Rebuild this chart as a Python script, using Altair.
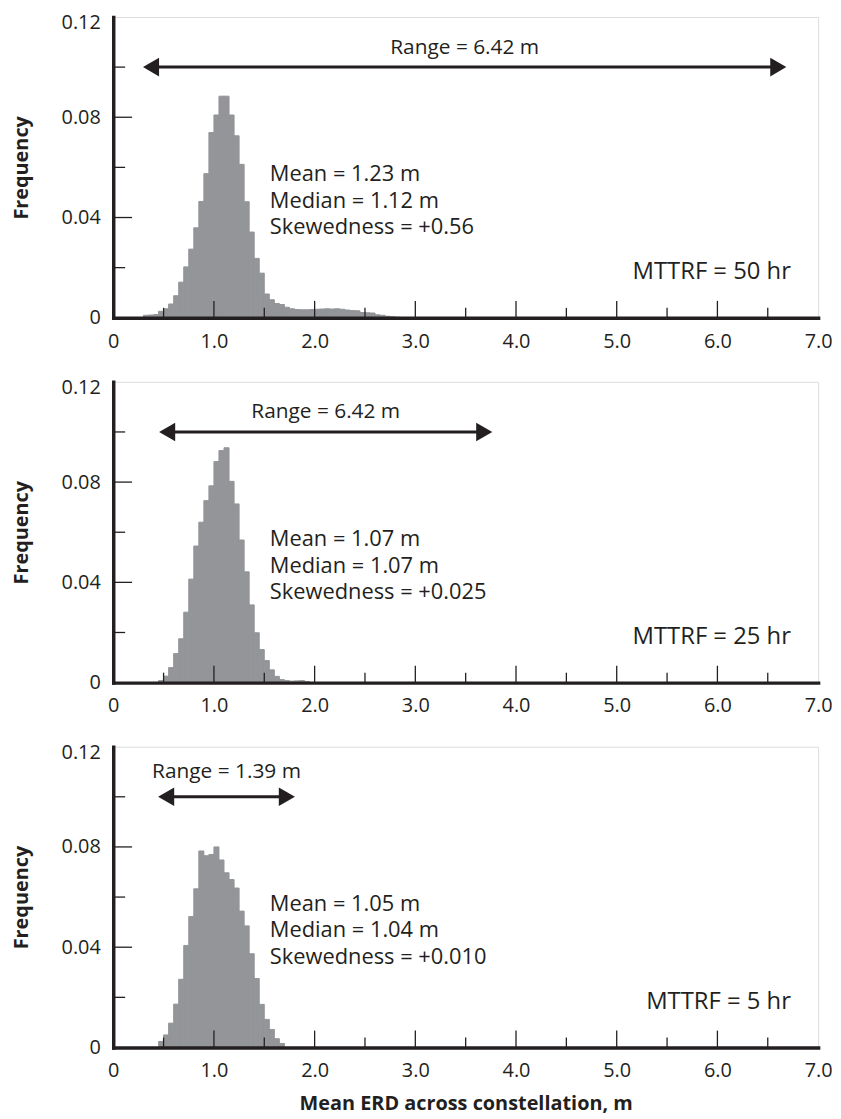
import altair as alt
import pandas as pd

# ---------------- data ----------------
BIN_W = 0.05

# MTTRF = 50 hr
bins_50 = [0.30, 0.35, 0.40, 0.45, 0.50, 0.55, 0.60, 0.65, 0.70, 0.75,
           0.80, 0.85, 0.90, 0.95, 1.00, 1.05, 1.10, 1.15, 1.20, 1.25,
           1.30, 1.35, 1.40, 1.45, 1.50, 1.55, 1.60, 1.65, 1.70, 1.75,
           1.80, 1.85, 1.90, 1.95, 2.00, 2.05, 2.10, 2.15, 2.20, 2.25,
           2.30, 2.35, 2.40, 2.45, 2.50, 2.55, 2.60, 2.65, 2.70, 2.75, 2.80]
freq_50 = [0.0010, 0.0011, 0.0013, 0.0026, 0.0036, 0.0055, 0.0088, 0.0142, 0.0203, 0.0274,
           0.0359, 0.0464, 0.0575, 0.0739, 0.0809, 0.0884, 0.0884, 0.0809, 0.0726, 0.0612,
           0.0463, 0.0342, 0.0237, 0.0178, 0.0095, 0.0072, 0.0057, 0.0053, 0.0042, 0.0036,
           0.0033, 0.0032, 0.0032, 0.0033, 0.0034, 0.0035, 0.0036, 0.0035, 0.0036, 0.0034,
           0.0031, 0.0029, 0.0028, 0.0021, 0.0020, 0.0019, 0.0012, 0.0010, 0.0006, 0.0004, 0.0002]

# MTTRF = 25 hr
bins_25 = [0.45, 0.50, 0.55, 0.60, 0.65, 0.70, 0.75, 0.80, 0.85, 0.90,
           0.95, 1.00, 1.05, 1.10, 1.15, 1.20, 1.25, 1.30, 1.35, 1.40,
           1.45, 1.50, 1.55, 1.60, 1.65, 1.70, 1.75, 1.80, 1.85, 1.90]
freq_25 = [0.0008, 0.0026, 0.0060, 0.0116, 0.0175, 0.0281, 0.0413, 0.0545, 0.0640, 0.0726,
           0.0785, 0.0882, 0.0926, 0.0937, 0.0803, 0.0713, 0.0569, 0.0442, 0.0310, 0.0199,
           0.0132, 0.0088, 0.0051, 0.0025, 0.0012, 0.0008, 0.0006, 0.0007, 0.0008, 0.0004]

# MTTRF = 5 hr
bins_5 = [0.45, 0.50, 0.55, 0.60, 0.65, 0.70, 0.75, 0.80, 0.85, 0.90,
          0.95, 1.00, 1.05, 1.10, 1.15, 1.20, 1.25, 1.30, 1.35, 1.40,
          1.45, 1.50, 1.55, 1.60, 1.65]
freq_5 = [0.0024, 0.0050, 0.0097, 0.0173, 0.0272, 0.0407, 0.0522, 0.0633, 0.0784, 0.0765,
          0.0770, 0.0800, 0.0748, 0.0697, 0.0670, 0.0636, 0.0544, 0.0485, 0.0374, 0.0275,
          0.0172, 0.0112, 0.0072, 0.0035, 0.0016]

range_lo = [0.27, 0.43, 0.42]
range_hi = [6.71, 3.79, 1.83]
range_text = ["Range = 6.42 m", "Range = 6.42 m", "Range = 1.39 m"]
stats_text = [
    ["Mean = 1.23 m", "Median = 1.12 m", "Skewedness = +0.56"],
    ["Mean = 1.07 m", "Median = 1.07 m", "Skewedness = +0.025"],
    ["Mean = 1.05 m", "Median = 1.04 m", "Skewedness = +0.010"],
]
mttrf_text = ["MTTRF = 50 hr", "MTTRF = 25 hr", "MTTRF = 5 hr"]

x_label_values = [0, 1, 2, 3, 4, 5, 6, 7]
y_label_values = [0, 0.04, 0.08, 0.12]
x_major_ticks = [1, 2, 3, 4, 5, 6]
x_minor_ticks = [0.5, 1.5, 2.5, 3.5, 4.5, 5.5, 6.5]
y_major_ticks = [0.04, 0.08]
y_minor_ticks = [0.02, 0.06, 0.10]

# ---------------- layout / style ----------------
W, H = 710, 303
INK = "#231f20"
GRAY = "#939598"
FONT = "Open Sans"
ARROW_Y = 0.10
RANGE_LABEL_Y = [0.1075, 0.108, 0.1098]
STATS_X = 1.555
STATS_Y = [0.0572, 0.0467, 0.0361]
MTTRF_X = 6.73
MTTRF_Y = 0.0183

xs = alt.Scale(domain=[0, 7], nice=False, zero=False)
ys = alt.Scale(domain=[0, 0.12], nice=False, zero=False)

TOP_TEST = "datum.value >= 0.119"


def make_panel(i, bins, freq, show_xtitle):
    xaxis = alt.Axis(
        values=x_label_values,
        labelExpr="datum.value == 0 ? '0' : format(datum.value, '.1f')",
        ticks=False, tickSize=0, grid=False,
        domainColor=INK, domainWidth=3.5, domainCap="square",
        labelPadding=13.5, labelFontSize=20, labelFont=FONT, labelColor=INK,
        labelFlush=False, labelOverlap=False,
        title="Mean ERD across constellation, m" if show_xtitle else None,
        titleFont=FONT, titleFontSize=20, titleFontWeight="bold", titleColor=INK,
        titlePadding=13, zindex=1,
    )
    yaxis = alt.Axis(
        values=y_label_values,
        labelExpr="datum.value == 0 ? '0' : format(datum.value, '.2f')",
        ticks=False, tickSize=0, grid=False,
        domainColor=INK, domainWidth=3.5, domainCap="square",
        labelPadding=13, labelFontSize=20, labelFont=FONT, labelColor=INK,
        labelFlush=False, labelOverlap=False,
        labelBaseline={"condition": {"test": TOP_TEST, "value": "top"}, "value": "middle"},
        labelOffset={"condition": {"test": TOP_TEST, "value": -4}, "value": 0},
        title="Frequency", titleFont=FONT, titleFontSize=20,
        titleFontWeight="bold", titleColor=INK, titlePadding=30, zindex=1,
    )

    df = pd.DataFrame({"x": bins, "f": freq})
    bars = alt.Chart(df).transform_calculate(
        x2=f"datum.x + {BIN_W}", y0="0"
    ).mark_rect(color=GRAY, stroke=GRAY, strokeWidth=1).encode(
        x=alt.X("x:Q", scale=xs, axis=xaxis),
        x2="x2:Q",
        y=alt.Y("f:Q", scale=ys, axis=yaxis),
        y2="y0:Q",
    )

    xmaj = alt.Chart(pd.DataFrame({"x": x_major_ticks})).mark_rule(
        color=INK, strokeWidth=1.3).encode(x="x:Q", y=alt.value(H), y2=alt.value(H - 17))
    xmin = alt.Chart(pd.DataFrame({"x": x_minor_ticks})).mark_rule(
        color=INK, strokeWidth=1.3).encode(x="x:Q", y=alt.value(H), y2=alt.value(H - 10))
    ymaj = alt.Chart(pd.DataFrame({"f": y_major_ticks})).mark_rule(
        color=INK, strokeWidth=1.3).encode(y="f:Q", x=alt.value(0), x2=alt.value(19))
    ymin = alt.Chart(pd.DataFrame({"f": y_minor_ticks})).mark_rule(
        color=INK, strokeWidth=1.3).encode(y="f:Q", x=alt.value(0), x2=alt.value(12))

    arr_df = pd.DataFrame({"x": [range_lo[i]], "x2": [range_hi[i]], "f": [ARROW_Y]})
    arrow = alt.Chart(arr_df).mark_rule(
        color=INK, strokeWidth=3, xOffset=8, x2Offset=-8).encode(
        x="x:Q", x2="x2:Q", y="f:Q")
    head_l = alt.Chart(pd.DataFrame({"x": [range_lo[i]], "f": [ARROW_Y]})).mark_point(
        shape="triangle-left", size=350, filled=True, color=INK, opacity=1,
        strokeWidth=0, xOffset=10.7).encode(x="x:Q", y="f:Q")
    head_r = alt.Chart(pd.DataFrame({"x": [range_hi[i]], "f": [ARROW_Y]})).mark_point(
        shape="triangle-right", size=350, filled=True, color=INK, opacity=1,
        strokeWidth=0, xOffset=-10.7).encode(x="x:Q", y="f:Q")

    rl_df = pd.DataFrame({"x": [(range_lo[i] + range_hi[i]) / 2],
                          "f": [RANGE_LABEL_Y[i]], "t": [range_text[i]]})
    rlabel = alt.Chart(rl_df).mark_text(
        font=FONT, fontSize=21, color=INK, align="center", baseline="middle").encode(
        x="x:Q", y="f:Q", text="t:N")

    st_df = pd.DataFrame({"x": [STATS_X] * 3, "f": STATS_Y, "t": stats_text[i]})
    stats = alt.Chart(st_df).mark_text(
        font=FONT, fontSize=22, color=INK, align="left", baseline="middle").encode(
        x="x:Q", y="f:Q", text="t:N")

    mt_df = pd.DataFrame({"x": [MTTRF_X], "f": [MTTRF_Y], "t": [mttrf_text[i]]})
    mt = alt.Chart(mt_df).mark_text(
        font=FONT, fontSize=24, color=INK, align="right", baseline="middle").encode(
        x="x:Q", y="f:Q", text="t:N")

    return alt.layer(bars, xmaj, xmin, ymaj, ymin, arrow, head_l, head_r,
                     rlabel, stats, mt).properties(width=W, height=H)


p1 = make_panel(0, bins_50, freq_50, False)
p2 = make_panel(1, bins_25, freq_25, False)
p3 = make_panel(2, bins_5, freq_5, True)

chart = alt.vconcat(p1, p2, p3, spacing=64.5, bounds="flush").properties(
    padding={"left": 2, "top": 0, "right": 0, "bottom": 0}
).configure_view(stroke=INK, strokeWidth=1).configure(font=FONT)

chart.save("out.html", embed_options={"renderer": "svg", "actions": False})
